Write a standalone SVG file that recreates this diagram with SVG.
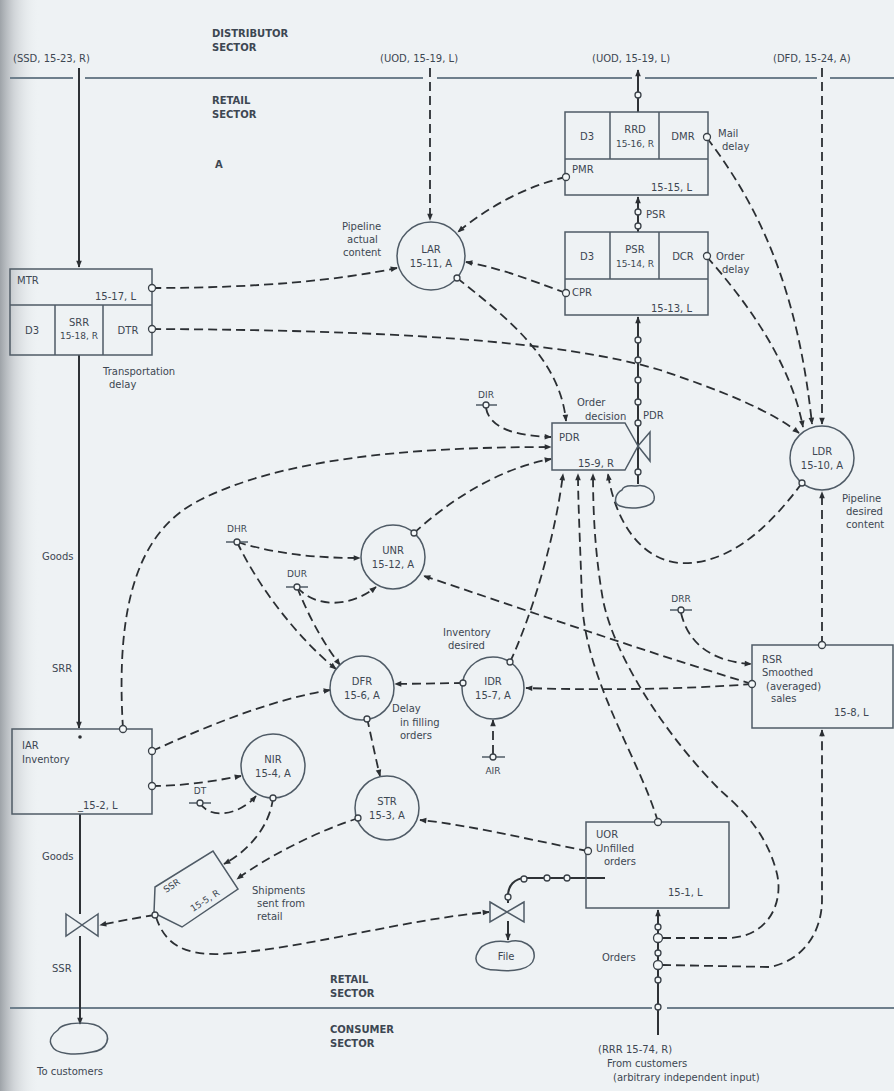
<svg xmlns="http://www.w3.org/2000/svg" width="894" height="1091" viewBox="0 0 894 1091">
<defs>
<linearGradient id="shade" x1="0" y1="0" x2="1" y2="0">
<stop offset="0" stop-color="#9ea3a8" stop-opacity="1"/>
<stop offset="0.35" stop-color="#c4c8cc" stop-opacity="0.7"/>
<stop offset="1" stop-color="#eef2f4" stop-opacity="0"/>
</linearGradient>
<marker id="ah" viewBox="0 0 10 10" refX="9" refY="5" markerWidth="8" markerHeight="7" markerUnits="userSpaceOnUse" orient="auto"><path d="M0,1 L10,5 L0,9 z" fill="#2b2f33"/></marker>
<style>
.ln{fill:none;stroke:#2b2f33;stroke-width:1.8}
.fl{fill:none;stroke:#2e3236;stroke-width:2}
.d{stroke-dasharray:9 5}
.a{marker-end:url(#ah)}
.bx{fill:none;stroke:#4f5b66;stroke-width:1.5}
.sec{fill:none;stroke:#6e7f8c;stroke-width:1.8}
.tk{fill:#f4f8f9;stroke:#3a4148;stroke-width:1.3}
.t{font-family:"DejaVu Sans","Liberation Sans",sans-serif;font-size:10px;fill:#3d4752}
.s{font-size:9px}
.b{font-weight:bold;font-size:10px}
.m{text-anchor:middle}
.e{text-anchor:end}
</style>
</defs>
<rect x="0" y="0" width="894" height="1091" fill="#eef2f4"/>
<rect x="0" y="0" width="40" height="1091" fill="url(#shade)"/>

<g id="sectors">
<path class="sec" d="M10,78 H73 M85,78 H423 M437,78 H632 M645,78 H817 M830,78 H894"/>
<path class="sec" d="M10,1008 H652 M667,1008 H894"/>
<text class="t b" x="212" y="37">DISTRIBUTOR</text>
<text class="t b" x="212" y="51">SECTOR</text>
<text class="t b" x="212" y="104">RETAIL</text>
<text class="t b" x="212" y="118">SECTOR</text>
<text class="t b" x="215" y="168">A</text>
<text class="t" x="13" y="62">(SSD, 15-23, R)</text>
<text class="t" x="380" y="62">(UOD, 15-19, L)</text>
<text class="t" x="592" y="62">(UOD, 15-19, L)</text>
<text class="t" x="773" y="62">(DFD, 15-24, A)</text>
<text class="t b" x="330" y="983">RETAIL</text>
<text class="t b" x="330" y="997">SECTOR</text>
<text class="t b" x="330" y="1033">CONSUMER</text>
<text class="t b" x="330" y="1047">SECTOR</text>
</g>

<g id="connectors">
<!-- material flow goods -->
<path class="fl a" d="M79,68 V267"/>
<path class="fl a" d="M79,355 V728"/>
<path class="fl" d="M80,814 V914"/>
<path class="fl a" d="M80,936 V1024"/>
<!-- order flows -->
<path class="fl a" d="M638,112 V70"/>
<path class="fl a" d="M638,232 V197"/>
<path class="fl a" d="M638,484 V317"/>
<path class="fl a" d="M658,1035 V910"/>
<path class="fl" d="M605,878 H586 M586,878 H526 C 514,878 508,886 508,896 V903"/>
<path class="fl a" d="M508,921 V940"/>
<!-- information links -->
<path class="ln d a" d="M430,68 V220"/>
<path class="ln d a" d="M822,68 V424"/>
<path class="ln d a" d="M152,288 C 260,288 340,280 397,268"/>
<path class="ln d a" d="M566,177 C 530,185 490,205 458,232"/>
<path class="ln d a" d="M566,293 C 530,280 500,268 466,262"/>
<path class="ln d a" d="M457,278 C 510,320 560,360 566,421"/>
<path class="ln d a" d="M707,138 C 770,220 800,310 812,424"/>
<path class="ln d a" d="M707,257 C 745,300 790,360 803,427"/>
<path class="ln d a" d="M152,329 C 380,330 560,340 660,370 C 720,390 770,410 799,433"/>
<path class="ln d a" d="M802,483 C 760,540 720,565 680,563 C 640,560 615,520 608,474"/>
<path class="ln d a" d="M822,645 V492"/>
<path class="ln d a" d="M123,729 C 115,600 140,530 200,500 C 280,460 400,447 551,447"/>
<path class="ln d a" d="M414,533 C 450,500 500,468 551,459"/>
<path class="ln d a" d="M486,408 C 490,430 520,436 551,437"/>
<path class="ln d a" d="M237,542 C 280,555 320,558 360,558"/>
<path class="ln d a" d="M237,542 C 260,590 300,640 336,669"/>
<path class="ln d a" d="M297,587 C 315,608 350,608 376,587"/>
<path class="ln d a" d="M297,587 C 310,620 325,645 340,665"/>
<path class="ln d a" d="M752,684 C 640,650 520,608 424,576"/>
<path class="ln d a" d="M752,684 C 680,690 580,690 526,688"/>
<path class="ln d a" d="M463,683 L395,684"/>
<path class="ln d a" d="M152,751 C 210,725 270,700 330,690"/>
<path class="ln d a" d="M152,786 C 180,786 210,782 241,776"/>
<path class="ln d a" d="M200,803 C 210,820 240,815 256,796"/>
<path class="ln d a" d="M273,798 C 270,825 250,850 224,864"/>
<path class="ln d a" d="M359,818 C 320,830 270,855 237,879"/>
<path class="ln d a" d="M588,851 C 530,840 470,825 420,820"/>
<path class="ln d a" d="M367,718 C 372,740 376,760 380,776"/>
<path class="ln d a" d="M493,754 V720"/>
<path class="ln d a" d="M510,662 C 530,620 555,540 563,474"/>
<path class="ln d a" d="M658,822 C 640,760 585,680 582,600 C 580,540 578,500 578,474"/>
<path class="ln d a" d="M662,938 L730,938 C 770,936 785,900 776,870 C 765,830 740,808 720,790 C 670,740 615,660 603,600 C 596,560 593,520 593,474"/>
<path class="ln d a" d="M662,965 L770,967 C 805,960 822,930 822,900 L822,730"/>
<path class="ln d a" d="M681,613 C 690,650 720,662 751,664"/>
<path class="ln d a" d="M155,915 C 135,918 115,922 100,925"/>
<path class="ln d a" d="M156,917 C 165,945 185,955 220,954 C 300,950 400,920 489,912"/>
<!-- take-off circles on flows -->
<circle class="tk" cx="638" cy="95" r="3"/>
<circle class="tk" cx="638" cy="212" r="3"/>
<circle class="tk" cx="638" cy="226" r="3"/>
<circle class="tk" cx="638" cy="340" r="3"/>
<circle class="tk" cx="638" cy="360" r="3"/>
<circle class="tk" cx="638" cy="380" r="3"/>
<circle class="tk" cx="638" cy="402" r="3"/>
<circle class="tk" cx="638" cy="423" r="3"/>
<circle class="tk" cx="638" cy="472" r="3"/>
<circle class="tk" cx="658" cy="927" r="3"/>
<circle class="tk" cx="658" cy="938" r="4.5"/>
<circle class="tk" cx="658" cy="953" r="3"/>
<circle class="tk" cx="658" cy="965" r="4.5"/>
<circle class="tk" cx="658" cy="980" r="3"/>
<circle class="tk" cx="658" cy="1007" r="3"/>
<circle class="tk" cx="567" cy="878" r="3"/>
<circle class="tk" cx="547" cy="878" r="3"/>
<circle class="tk" cx="524" cy="879" r="3"/>
<circle class="tk" cx="508" cy="897" r="3"/>
<circle cx="80" cy="737" r="1.8" fill="#2b2f33"/>
<text class="t" x="646" y="218">PSR</text>
<text class="t" x="643" y="419">PDR</text>
<text class="t" x="602" y="961">Orders</text>
<text class="t" x="42" y="560">Goods</text>
<text class="t" x="52" y="672">SRR</text>
<text class="t" x="42" y="860">Goods</text>
<text class="t" x="52" y="972">SSR</text>
</g>

<g id="MTR">
<rect class="bx" x="10" y="269" width="142" height="86"/>
<path class="bx" d="M10,305 H152 M55,305 V355 M103,305 V355"/>
<text class="t" x="17" y="284">MTR</text>
<text class="t e" x="136" y="300">15-17, L</text>
<text class="t m" x="32" y="334">D3</text>
<text class="t m" x="79" y="326">SRR</text>
<text class="t m s" x="79" y="339">15-18, R</text>
<text class="t m" x="128" y="334">DTR</text>
<circle class="tk" cx="152" cy="288" r="3.5"/>
<circle class="tk" cx="152" cy="329" r="3.5"/>
<text class="t" x="103" y="375">Transportation</text>
<text class="t" x="109" y="388">delay</text>
</g>

<g id="RRD">
<rect class="bx" x="565" y="112" width="143" height="83"/>
<path class="bx" d="M565,159 H708 M610,112 V159 M659,112 V159"/>
<text class="t m" x="587" y="140">D3</text>
<text class="t m" x="635" y="133">RRD</text>
<text class="t m s" x="635" y="147">15-16, R</text>
<text class="t m" x="683" y="140">DMR</text>
<text class="t" x="572" y="173">PMR</text>
<text class="t e" x="692" y="191">15-15, L</text>
<circle class="tk" cx="707" cy="137" r="3.5"/>
<circle class="tk" cx="566" cy="177" r="3.5"/>
<text class="t" x="718" y="137">Mail</text>
<text class="t" x="722" y="150">delay</text>
</g>

<g id="PSR">
<rect class="bx" x="565" y="232" width="143" height="83"/>
<path class="bx" d="M565,279 H708 M610,232 V279 M659,232 V279"/>
<text class="t m" x="587" y="260">D3</text>
<text class="t m" x="635" y="253">PSR</text>
<text class="t m s" x="635" y="267">15-14, R</text>
<text class="t m" x="683" y="260">DCR</text>
<text class="t" x="572" y="296">CPR</text>
<text class="t e" x="692" y="312">15-13, L</text>
<circle class="tk" cx="707" cy="256" r="3.5"/>
<circle class="tk" cx="566" cy="293" r="3.5"/>
<text class="t" x="716" y="260">Order</text>
<text class="t" x="722" y="273">delay</text>
</g>

<g id="LAR">
<circle class="bx" cx="431" cy="256" r="34"/>
<text class="t m" x="431" y="253">LAR</text>
<text class="t m" x="431" y="267">15-11, A</text>
<circle class="tk" cx="457" cy="278" r="3"/>
<text class="t" x="342" y="230">Pipeline</text>
<text class="t" x="347" y="243">actual</text>
<text class="t" x="343" y="256">content</text>
</g>

<g id="PDR">
<path class="bx" d="M552,423 H625 L638,446 L625,470 H552 Z"/>
<path class="bx" d="M638,446 L650,432 V461 Z"/>
<text class="t" x="559" y="441">PDR</text>
<text class="t" x="578" y="467">15-9, R</text>
<text class="t" x="577" y="406">Order</text>
<text class="t" x="585" y="420">decision</text>
<path class="bx" d="M622,490 C 624,484 634,486 636,486 C 645,484 656,490 654,500 C 652,508 630,510 620,506 C 612,503 616,493 622,490 Z"/>
</g>

<g id="DIR">
<text class="t m s" x="486" y="398">DIR</text>
<path class="bx" d="M476,405 H497"/>
<circle class="tk" cx="486" cy="405" r="3"/>
</g>

<g id="LDR">
<circle class="bx" cx="822" cy="458" r="32"/>
<text class="t m" x="822" y="455">LDR</text>
<text class="t m" x="822" y="469">15-10, A</text>
<circle class="tk" cx="802" cy="483" r="3"/>
<text class="t" x="842" y="502">Pipeline</text>
<text class="t" x="846" y="515">desired</text>
<text class="t" x="846" y="528">content</text>
</g>

<g id="UNR">
<circle class="bx" cx="393" cy="557" r="32"/>
<text class="t m" x="393" y="554">UNR</text>
<text class="t m" x="393" y="568">15-12, A</text>
<circle class="tk" cx="414" cy="533" r="3"/>
</g>

<g id="DHR">
<text class="t m s" x="237" y="532">DHR</text>
<path class="bx" d="M226,542 H248"/>
<circle class="tk" cx="237" cy="542" r="3"/>
</g>

<g id="DUR">
<text class="t m s" x="297" y="577">DUR</text>
<path class="bx" d="M286,587 H308"/>
<circle class="tk" cx="297" cy="587" r="3"/>
</g>

<g id="DFR">
<circle class="bx" cx="362" cy="688" r="32"/>
<text class="t m" x="362" y="685">DFR</text>
<text class="t m" x="362" y="699">15-6, A</text>
<circle class="tk" cx="367" cy="719" r="3"/>
<text class="t" x="392" y="712">Delay</text>
<text class="t" x="400" y="726">in filling</text>
<text class="t" x="400" y="739">orders</text>
</g>

<g id="IDR">
<circle class="bx" cx="493" cy="688" r="31"/>
<text class="t m" x="493" y="685">IDR</text>
<text class="t m" x="493" y="699">15-7, A</text>
<circle class="tk" cx="463" cy="683" r="3"/>
<circle class="tk" cx="510" cy="662" r="3"/>
<text class="t" x="443" y="636">Inventory</text>
<text class="t" x="448" y="649">desired</text>
</g>

<g id="AIR">
<path class="bx" d="M482,757 H505"/>
<circle class="tk" cx="493" cy="757" r="3"/>
<text class="t m s" x="493" y="774">AIR</text>
</g>

<g id="RSR">
<rect class="bx" x="752" y="645" width="141" height="83"/>
<text class="t" x="762" y="663">RSR</text>
<text class="t" x="762" y="676">Smoothed</text>
<text class="t" x="766" y="690">(averaged)</text>
<text class="t" x="771" y="702">sales</text>
<text class="t" x="834" y="716">15-8, L</text>
<circle class="tk" cx="822" cy="645" r="3.5"/>
<circle class="tk" cx="752" cy="684" r="3.5"/>
</g>

<g id="DRR">
<text class="t m s" x="681" y="602">DRR</text>
<path class="bx" d="M670,610 H692"/>
<circle class="tk" cx="681" cy="610" r="3"/>
</g>

<g id="IAR">
<rect class="bx" x="12" y="729" width="140" height="85"/>
<text class="t" x="22" y="749">IAR</text>
<text class="t" x="22" y="763">Inventory</text>
<text class="t" x="78" y="809">_15-2, L</text>
<circle class="tk" cx="123" cy="729" r="3.5"/>
<circle class="tk" cx="152" cy="751" r="3.5"/>
<circle class="tk" cx="152" cy="786" r="3.5"/>
</g>

<g id="NIR">
<circle class="bx" cx="273" cy="766" r="32"/>
<text class="t m" x="273" y="763">NIR</text>
<text class="t m" x="273" y="777">15-4, A</text>
<circle class="tk" cx="273" cy="798" r="3"/>
</g>

<g id="DT">
<text class="t m s" x="200" y="794">DT</text>
<path class="bx" d="M189,803 H211"/>
<circle class="tk" cx="200" cy="803" r="3"/>
</g>

<g id="STR">
<circle class="bx" cx="387" cy="808" r="32"/>
<text class="t m" x="387" y="805">STR</text>
<text class="t m" x="387" y="819">15-3, A</text>
<circle class="tk" cx="358" cy="818" r="3"/>
</g>

<g id="SSR">
<path class="bx" d="M155,887 L213,851 L238,889 L182,927 L154,913 Z"/>
<text class="t s" transform="translate(166,893) rotate(-33)">SSR</text>
<text class="t s" transform="translate(193,912) rotate(-33)">15-5, R</text>
<circle class="tk" cx="155" cy="915" r="3"/>
<text class="t" x="252" y="894">Shipments</text>
<text class="t" x="257" y="907">sent from</text>
<text class="t" x="257" y="920">retail</text>
</g>

<g id="SSRvalve">
<path class="bx" d="M66,914 L82,925 L66,936 Z M98,914 L82,925 L98,936 Z"/>
</g>

<g id="customers">
<path class="bx" d="M58,1030 C 62,1021 95,1021 102,1029 C 112,1036 108,1050 92,1052 C 75,1056 55,1054 52,1046 C 48,1040 52,1034 58,1030 Z"/>
<text class="t" x="37" y="1075">To customers</text>
</g>

<g id="UOR">
<rect class="bx" x="586" y="822" width="143" height="86"/>
<text class="t" x="596" y="838">UOR</text>
<text class="t" x="596" y="852">Unfilled</text>
<text class="t" x="604" y="865">orders</text>
<text class="t" x="668" y="896">15-1, L</text>
<circle class="tk" cx="658" cy="822" r="3.5"/>
<circle class="tk" cx="588" cy="851" r="3.5"/>
<text class="t" x="598" y="1053">(RRR 15-74, R)</text>
<text class="t" x="607" y="1067">From customers</text>
<text class="t" x="613" y="1081">(arbitrary independent input)</text>
</g>

<g id="File">
<path class="bx" d="M490,902 L507,912 L490,922 Z M524,902 L507,912 L524,922 Z"/>
<path class="bx" d="M478,952 C 482,942 498,940 508,942 C 522,938 536,946 534,958 C 532,970 512,972 496,970 C 480,970 472,962 478,952 Z"/>
<text class="t m" x="506" y="960">File</text>
</g>
</svg>
